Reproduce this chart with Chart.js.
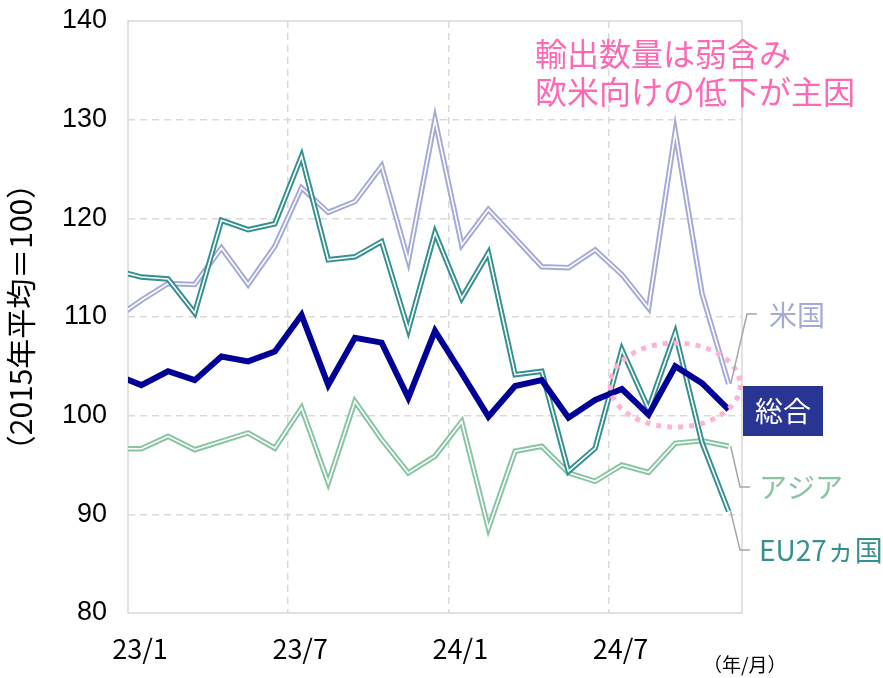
<!DOCTYPE html>
<html lang="ja">
<head>
<meta charset="utf-8">
<title>輸出数量指数</title>
<script src="https://cdn.jsdelivr.net/npm/chart.js@4.4.1/dist/chart.umd.min.js"></script>
<style>
  html, body { margin: 0; padding: 0; background: #fff; }
  #wrap { width: 883px; height: 678px; }
</style>
</head>
<body>
<div id="wrap"><canvas id="lineChart" width="883" height="678"></canvas></div>
<script>
// months (first one is only partly visible at the left edge)
const months = ['22/12',
  '23/1', '23/2', '23/3', '23/4', '23/5', '23/6', '23/7', '23/8', '23/9', '23/10', '23/11', '23/12',
  '24/1', '24/2', '24/3', '24/4', '24/5', '24/6', '24/7', '24/8', '24/9', '24/10', '24/11'];
const tickLabels = ['23/1', '23/7', '24/1', '24/7'];

// index, 2015 average = 100
const totalValues = [104.2, 103.1, 104.5, 103.6, 106.0, 105.5, 106.5, 110.2, 103.1, 107.9, 107.4, 101.8, 108.6,
  104.3, 99.9, 103.0, 103.6, 99.8, 101.6, 102.7, 100.1, 105.0, 103.3, 100.6];
const usValues = [109.8, 111.7, 113.4, 113.3, 117.0, 113.3, 117.15, 123.1, 120.6, 121.7, 125.3, 115.7, 130.0,
  117.3, 120.9, 118.0, 115.1, 115.0, 116.8, 114.3, 110.9, 128.8, 112.4, 103.2];
const euValues = [114.75, 114.05, 113.85, 110.4, 119.8, 118.85, 119.45, 126.3, 115.8, 116.1, 117.65, 108.7, 118.55,
  111.9, 116.5, 104.15, 104.5, 94.35, 96.7, 106.7, 100.7, 108.4, 97.3, 90.3];
const asiaValues = [96.65, 96.65, 97.9, 96.55, 97.4, 98.25, 96.7, 100.8, 93.2, 101.45, 97.6, 94.2, 95.9,
  99.4, 88.6, 96.4, 96.9, 94.2, 93.35, 95.0, 94.25, 97.2, 97.45, 96.9];

const COL_US = '#a5aad6';
const COL_EU = '#35908f';
const COL_ASIA = '#88c5a3';
const COL_TOTAL = '#000096';
const CJK = '"Noto Sans CJK JP", sans-serif';

// x = 0 is 23/1
const toPoints = vals => vals.map((v, i) => ({ x: i - 1, y: v }));

// Excel-like double line: coloured outer stroke with a thin white core
function doubleLine(label, vals, color, order) {
  const base = { data: toPoints(vals), pointRadius: 0, borderJoinStyle: 'miter', clip: 0, tension: 0 };
  return [
    Object.assign({ label: label, borderColor: color, borderWidth: 5.5, order: order + 1 }, base),
    Object.assign({ label: label + '_core', borderColor: '#ffffff', borderWidth: 1.6, order: order }, base)
  ];
}

const overlay = {
  id: 'overlay',
  beforeDatasetsDraw(chart) {
    const { ctx, chartArea: a } = chart;
    ctx.save();
    ctx.strokeStyle = '#d9d9d9';
    ctx.lineWidth = 1.5;
    ctx.strokeRect(a.left, a.top, a.right - a.left, a.bottom - a.top);
    ctx.restore();
  },
  afterDatasetsDraw(chart) {
    const { ctx, scales: { x, y } } = chart;
    ctx.save();

    // dotted ellipse around the latest months
    ctx.strokeStyle = '#ffb3d7';
    ctx.lineWidth = 5;
    ctx.setLineDash([5, 6]);
    ctx.beginPath();
    ctx.ellipse(x.getPixelForValue(20), y.getPixelForValue(103.1), 65, 42, 0, 0, Math.PI * 2);
    ctx.stroke();
    ctx.setLineDash([]);

    // comment
    ctx.fillStyle = '#ff69b4';
    ctx.font = '32px ' + CJK;
    ctx.textBaseline = 'middle';
    ctx.textAlign = 'left';
    ctx.fillText('輸出数量は弱含み', 535, 54);
    ctx.fillText('欧米向けの低下が主因', 535, 92);

    // leader lines from the series ends
    const ex = x.getPixelForValue(22) + 2;
    const last = vals => vals[vals.length - 1];
    ctx.strokeStyle = '#a6a6a6';
    ctx.lineWidth = 1.5;
    const leader = (vals, bx, by, tx) => {
      ctx.beginPath();
      ctx.moveTo(ex, y.getPixelForValue(last(vals)));
      ctx.lineTo(bx, by);
      ctx.lineTo(tx, by);
      ctx.stroke();
    };
    leader(usValues, 747, 314, 757);
    leader(asiaValues, 740, 487, 750);
    leader(euValues, 740, 550, 750);

    // series labels
    ctx.font = '28px ' + CJK;
    ctx.fillStyle = COL_US;
    ctx.fillText('米国', 769, 315);
    ctx.fillStyle = COL_ASIA;
    ctx.fillText('アジア', 759, 487);
    ctx.fillStyle = COL_EU;
    ctx.fillText('EU27ヵ国', 759, 550);

    ctx.fillStyle = '#283593';
    ctx.fillRect(743, 386, 80, 50);
    ctx.fillStyle = '#ffffff';
    ctx.textAlign = 'center';
    ctx.fillText('総合', 783, 411);

    // unit
    ctx.fillStyle = '#000';
    ctx.textAlign = 'left';
    ctx.font = '19px ' + CJK;
    ctx.fillText('（年/月）', 703, 665);

    ctx.restore();
  }
};

const gridTicks = [-0.5, 5.5, 11.5, 17.5, 22.5];

new Chart(document.getElementById('lineChart').getContext('2d'), {
  type: 'line',
  data: {
    datasets: [
      ...doubleLine('米国', usValues, COL_US, 6),
      ...doubleLine('アジア', asiaValues, COL_ASIA, 4),
      ...doubleLine('EU27ヵ国', euValues, COL_EU, 2),
      { label: '総合', data: toPoints(totalValues), borderColor: COL_TOTAL, borderWidth: 6,
        pointRadius: 0, borderJoinStyle: 'miter', clip: 0, order: 1 }
    ]
  },
  options: {
    responsive: false,
    animation: false,
    layout: { padding: { top: 21, right: 141, bottom: 0, left: 0 } },
    plugins: { legend: { display: false }, tooltip: { enabled: false } },
    scales: {
      x: {
        type: 'linear',
        min: -0.5,
        max: 22.5,
        afterBuildTicks: s => { s.ticks = gridTicks.map(v => ({ value: v })); },
        afterFit: s => { s.height = 65; },
        border: { display: false, dash: [7, 5] },
        grid: {
          drawTicks: false,
          lineWidth: 1.5,
          color: c => (c.tick && c.tick.value > 0 && c.tick.value < 22) ? '#d9d9d9' : 'rgba(0,0,0,0)'
        },
        ticks: {
          autoSkip: false,
          maxRotation: 0,
          padding: 20,
          labelOffset: 12,
          color: '#000',
          font: { family: CJK, size: 27 },
          callback: (v, i) => tickLabels[i] || ''
        }
      },
      y: {
        min: 80,
        max: 140,
        afterFit: s => { s.width = 128; s.paddingTop = 0; s.paddingBottom = 0; },
        border: { display: false, dash: [7, 5] },
        grid: {
          drawTicks: false,
          lineWidth: 1.5,
          color: c => (c.tick && c.tick.value > 80 && c.tick.value < 140) ? '#d9d9d9' : 'rgba(0,0,0,0)'
        },
        ticks: {
          stepSize: 10,
          padding: 21,
          color: '#000',
          font: { family: '"Liberation Sans", Arial, sans-serif', size: 27 }
        },
        title: {
          display: true,
          text: '（2015年平均＝100）',
          color: '#000',
          padding: { top: 3, bottom: 0 },
          font: { family: CJK, size: 30 }
        }
      }
    }
  },
  plugins: [overlay]
});
</script>
</body>
</html>
